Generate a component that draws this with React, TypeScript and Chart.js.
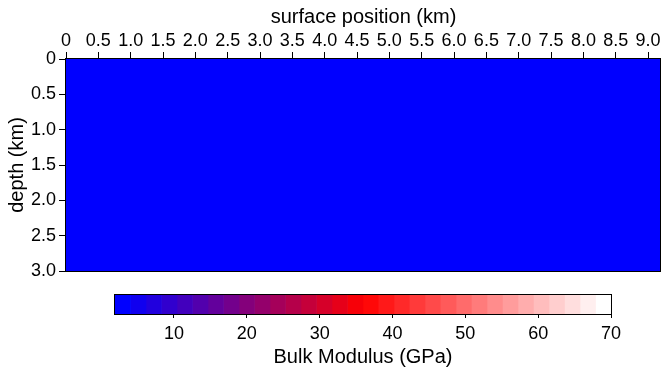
import React, { useEffect, useRef } from 'react';
import { Chart, registerables } from 'chart.js';

Chart.register(...registerables);

// ---- data ----
const xEdgesKm = [0, 2.3, 4.6, 6.9, 9.2];
const depthEdgesKm = [0, 1.0, 2.0, 3.0];
const bulkModulusGPa = [
  [1.9, 1.9, 1.9, 1.9],
  [1.9, 1.9, 1.9, 1.9],
  [1.9, 1.9, 1.9, 1.9],
];
const xTickValues = [0, 0.5, 1, 1.5, 2, 2.5, 3, 3.5, 4, 4.5, 5, 5.5, 6, 6.5, 7, 7.5, 8, 8.5, 9];
const xTickLabels = ['0', '0.5', '1.0', '1.5', '2.0', '2.5', '3.0', '3.5', '4.0', '4.5', '5.0', '5.5', '6.0', '6.5', '7.0', '7.5', '8.0', '8.5', '9.0'];
const depthTickValues = [0, 0.5, 1, 1.5, 2, 2.5, 3];
const depthTickLabels = ['0', '0.5', '1.0', '1.5', '2.0', '2.5', '3.0'];
const colorbarRange = [1.9, 70];
const colorbarLevels = [32];
const colorbarTickValues = [10, 20, 30, 40, 50, 60, 70];
const colorbarTickLabels = ['10', '20', '30', '40', '50', '60', '70'];
const colormapAnchors = [
  [0, 0, 255],
  [255, 0, 0],
  [255, 255, 255],
];

const FONT = '"Liberation Sans", Arial, Helvetica, sans-serif';

function cmap(t: number): string {
  const tt = Math.max(0, Math.min(1, t));
  const seg = tt <= 0.5 ? 0 : 1;
  const u = seg === 0 ? tt * 2 : tt * 2 - 1;
  const a = colormapAnchors[seg];
  const b = colormapAnchors[seg + 1];
  const c = a.map((v, k) => Math.round(v + (b[k] - v) * u));
  return `rgb(${c[0]},${c[1]},${c[2]})`;
}

function levelColor(value: number): string {
  const [lo, hi] = colorbarRange;
  const n = colorbarLevels[0];
  let i = Math.floor(((value - lo) / (hi - lo)) * n);
  i = Math.max(0, Math.min(n - 1, i));
  return cmap(i / (n - 1));
}

const heatmapPlugin = {
  id: 'heatmapCells',
  beforeDatasetsDraw(chart: any) {
    const { ctx, chartArea, scales } = chart;
    const xs = scales.x;
    const ys = scales.y;
    ctx.save();
    ctx.beginPath();
    ctx.rect(chartArea.left, chartArea.top, chartArea.right - chartArea.left, chartArea.bottom - chartArea.top);
    ctx.clip();
    for (let r = 0; r < bulkModulusGPa.length; r++) {
      for (let c = 0; c < bulkModulusGPa[r].length; c++) {
        const x0 = Math.round(xs.getPixelForValue(xEdgesKm[c]));
        const x1 = Math.round(xs.getPixelForValue(xEdgesKm[c + 1]));
        const y0 = Math.round(ys.getPixelForValue(depthEdgesKm[r]));
        const y1 = Math.round(ys.getPixelForValue(depthEdgesKm[r + 1]));
        ctx.fillStyle = levelColor(bulkModulusGPa[r][c]);
        ctx.fillRect(Math.min(x0, x1), Math.min(y0, y1), Math.abs(x1 - x0), Math.abs(y1 - y0));
      }
    }
    ctx.restore();
  },
  afterDraw(chart: any) {
    const { ctx, chartArea } = chart;
    ctx.save();
    ctx.strokeStyle = '#000';
    ctx.lineWidth = 1;
    const l = Math.round(chartArea.left) - 0.5;
    const t = Math.round(chartArea.top) - 0.5;
    const r = Math.round(chartArea.right) - 0.5;
    const b = Math.round(chartArea.bottom) + 0.5;
    ctx.strokeRect(l, t, r - l, b - t);
    ctx.restore();
  },
};

const boxPlugin = {
  id: 'colorbarBox',
  afterDatasetsDraw(chart: any) {
    const { ctx, chartArea } = chart;
    ctx.save();
    ctx.strokeStyle = '#000';
    ctx.lineWidth = 1;
    const l = Math.round(chartArea.left) - 0.5;
    const t = Math.round(chartArea.top) - 0.5;
    const r = Math.round(chartArea.right) + 0.5;
    const b = Math.round(chartArea.bottom) + 0.5;
    ctx.strokeRect(l, t, r - l, b - t);
    ctx.restore();
  },
};

export default function App() {
  const mainRef = useRef<HTMLCanvasElement | null>(null);
  const cbRef = useRef<HTMLCanvasElement | null>(null);

  useEffect(() => {
    Chart.defaults.font.family = FONT;
    Chart.defaults.color = '#000';

    const main = new Chart(mainRef.current as HTMLCanvasElement, {
      type: 'scatter',
      data: { datasets: [{ data: [], showLine: false }] },
      options: {
        animation: false,
        responsive: false,
        layout: { padding: { left: 0, top: 0, right: 3, bottom: 19 } },
        plugins: { legend: { display: false }, tooltip: { enabled: false } },
        scales: {
          x: {
            type: 'linear',
            position: 'top',
            min: xEdgesKm[0],
            max: xEdgesKm[xEdgesKm.length - 1],
            afterBuildTicks: (s: any) => {
              s.ticks = xTickValues.map((v) => ({ value: v }));
            },
            afterFit: (s: any) => {
              s.height = 59;
            },
            ticks: {
              font: { size: 18 },
              padding: 0,
              maxRotation: 0,
              autoSkip: false,
              callback: (_v: any, i: number) => xTickLabels[i],
            },
            grid: { drawOnChartArea: false, drawTicks: true, tickLength: 7, color: '#000', lineWidth: 1 },
            border: { display: false },
            title: { display: true, text: 'surface position (km)', font: { size: 20 }, padding: { top: 5, bottom: 0 } },
          },
          y: {
            type: 'linear',
            position: 'left',
            reverse: true,
            min: depthEdgesKm[0],
            max: depthEdgesKm[depthEdgesKm.length - 1],
            afterBuildTicks: (s: any) => {
              s.ticks = depthTickValues.map((v) => ({ value: v }));
            },
            afterFit: (s: any) => {
              s.width = 66;
            },
            ticks: {
              font: { size: 18 },
              padding: 3,
              autoSkip: false,
              callback: (_v: any, i: number) => depthTickLabels[i],
            },
            grid: { drawOnChartArea: false, drawTicks: true, tickLength: 7, color: '#000', lineWidth: 1 },
            border: { display: false },
            title: { display: true, text: 'depth (km)', font: { size: 20 }, padding: { top: 5, bottom: 0 } },
          },
        },
      } as any,
      plugins: [heatmapPlugin],
    });

    const [lo, hi] = colorbarRange;
    const n = colorbarLevels[0];
    const step = (hi - lo) / n;
    const datasets = [] as any[];
    for (let i = 0; i < n; i++) {
      datasets.push({
        data: [[lo + i * step, lo + (i + 1) * step]],
        backgroundColor: cmap(i / (n - 1)),
        borderWidth: 0,
        grouped: false,
        barPercentage: 1,
        categoryPercentage: 1,
      });
    }

    const cb = new Chart(cbRef.current as HTMLCanvasElement, {
      type: 'bar',
      data: { labels: ['cb'], datasets },
      options: {
        animation: false,
        responsive: false,
        indexAxis: 'y',
        layout: { padding: { left: 115, top: 15, right: 53, bottom: 0 } },
        plugins: { legend: { display: false }, tooltip: { enabled: false } },
        scales: {
          x: {
            type: 'linear',
            position: 'bottom',
            min: lo,
            max: hi,
            afterBuildTicks: (s: any) => {
              s.ticks = colorbarTickValues.map((v) => ({ value: v }));
            },
            afterFit: (s: any) => {
              s.height = 53;
            },
            ticks: {
              font: { size: 18 },
              padding: 5,
              maxRotation: 0,
              autoSkip: false,
              callback: (_v: any, i: number) => colorbarTickLabels[i],
            },
            grid: { drawOnChartArea: false, drawTicks: true, tickLength: 4, color: '#000', lineWidth: 1 },
            border: { display: false },
            title: { display: true, text: 'Bulk Modulus (GPa)', font: { size: 20, lineHeight: 1.0 }, padding: { top: 0, bottom: 0 } },
          },
          y: { display: false },
        },
      } as any,
      plugins: [boxPlugin],
    });

    return () => {
      main.destroy();
      cb.destroy();
    };
  }, []);

  return (
    <div style={{ position: 'absolute', left: 0, top: 0, width: 664, height: 367, overflow: 'hidden', background: '#fff' }}>
      <canvas ref={mainRef} width={664} height={290} style={{ position: 'absolute', left: 0, top: 0, display: 'block' }} />
      <canvas ref={cbRef} width={664} height={87} style={{ position: 'absolute', left: 0, top: 280, display: 'block' }} />
    </div>
  );
}
